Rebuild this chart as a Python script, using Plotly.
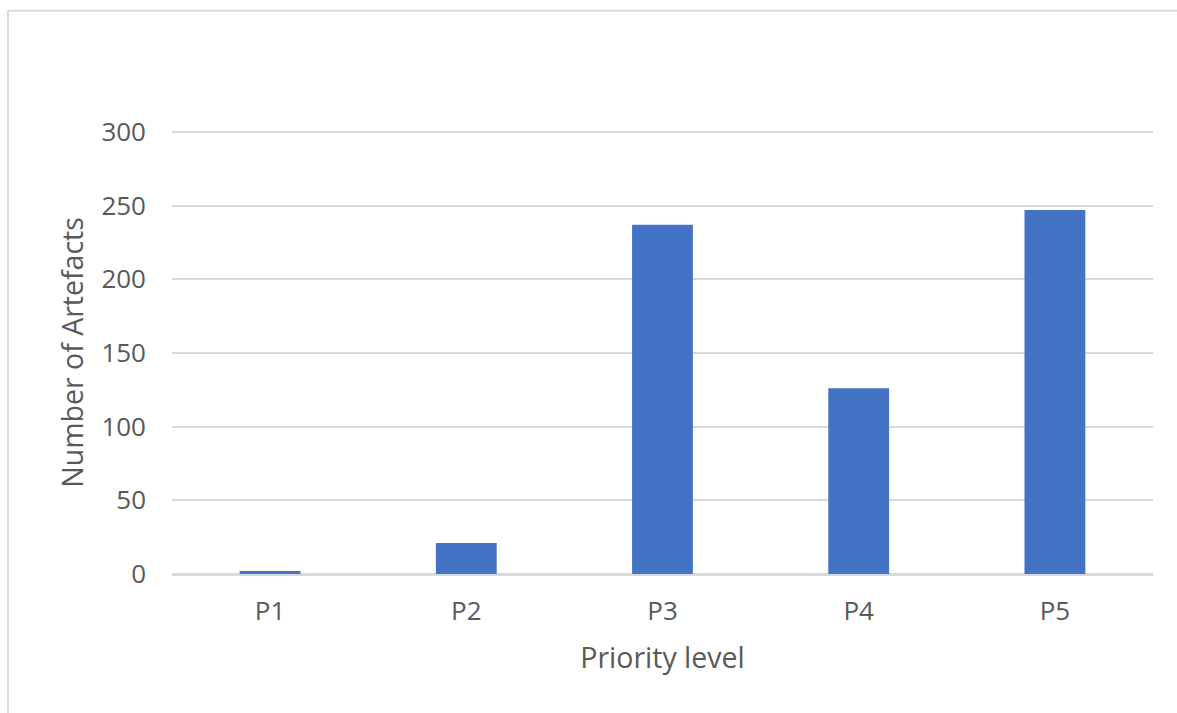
import plotly.graph_objects as go

# Artefact counts per priority level
priority_levels = ["P1", "P2", "P3", "P4", "P5"]
artefact_counts = [2, 21, 237, 126, 247]
y_tick_values = [0, 50, 100, 150, 200, 250, 300]

W, H = 1177, 713
L, R, T, B = 172, 24, 132, 139
pw, ph = W - L - R, H - T - B

text_color = "#595959"
grid_color = "#D9D9D9"
font_family = "'Open Sans', 'Noto Sans', sans-serif"

fig = go.Figure(
    go.Bar(
        x=priority_levels,
        y=artefact_counts,
        marker=dict(color="#4472C4", line=dict(width=0)),
        width=0.31,
        hoverinfo="x+y",
    )
)

# outer chart border (left and top edges)
bx = (8 - L) / pw
by = (H - B - 12) / ph
border = dict(type="line", xref="paper", yref="paper",
              line=dict(color=grid_color, width=2), layer="below")
fig.add_shape(**border, x0=bx, x1=bx, y0=by, y1=-(B + 5) / ph)
fig.add_shape(**border, x0=bx, x1=(W - L + 5) / pw, y0=by, y1=by)

fig.update_layout(
    width=W,
    height=H,
    margin=dict(l=L, r=R, t=T - 1, b=B, autoexpand=False),
    paper_bgcolor="white",
    plot_bgcolor="white",
    showlegend=False,
    font=dict(family=font_family, color=text_color, size=26),
    bargap=0.69,
    xaxis=dict(
        title=dict(text="Priority level", font=dict(size=28.5, color=text_color), standoff=21),
        tickfont=dict(size=26, color=text_color),
        showgrid=False,
        showline=True,
        linecolor=grid_color,
        linewidth=1.5,
        ticks="",
        ticklabelstandoff=13,
    ),
    yaxis=dict(
        range=[0, 300.7],
        tickvals=y_tick_values,
        tickfont=dict(size=26, color=text_color),
        title=dict(text="Number of Artefacts", font=dict(size=28.5, color=text_color), standoff=9),
        showgrid=True,
        gridcolor=grid_color,
        gridwidth=1.5,
        zeroline=True,
        zerolinecolor=grid_color,
        zerolinewidth=1.5,
        showline=False,
        ticks="",
        ticklabelstandoff=25,
    ),
)

fig.write_html("out.html")
